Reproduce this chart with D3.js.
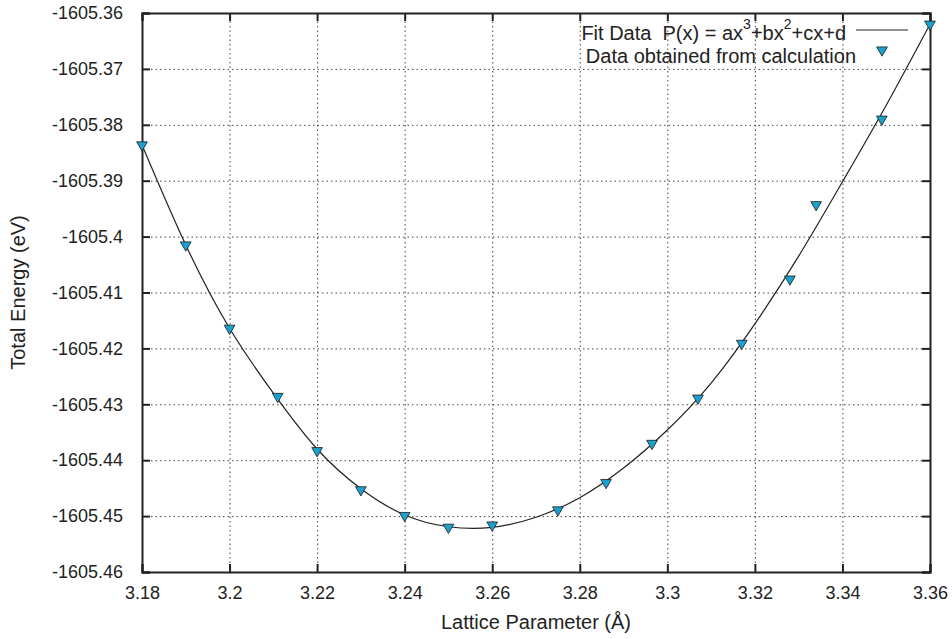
<!DOCTYPE html>
<html>
<head>
<meta charset="utf-8">
<script src="https://cdn.jsdelivr.net/npm/d3@7"></script>
<style>
  body { margin: 0; background: #fff; }
  text { font-family: "Liberation Sans", Arial, sans-serif; fill: #222; }
</style>
</head>
<body>
<div id="chart"></div>
<script>
// Data
const calcX = [3.18, 3.19, 3.20, 3.211, 3.22, 3.23, 3.24, 3.25, 3.26, 3.275, 3.286, 3.2965, 3.307, 3.317, 3.328, 3.334, 3.349, 3.36];
const calcE = [-1605.3836, -1605.4015, -1605.4164, -1605.4286, -1605.4383, -1605.4453, -1605.4499, -1605.4520, -1605.4516,
               -1605.4489, -1605.4440, -1605.4370, -1605.4289, -1605.4191, -1605.4076, -1605.3943, -1605.3790, -1605.3620];

// fitted cubic, sampled from the drawn curve
const fitX = [3.18, 3.19, 3.20, 3.21, 3.22, 3.23, 3.24, 3.25, 3.26, 3.27, 3.28, 3.29, 3.30, 3.31, 3.32, 3.33, 3.34, 3.35, 3.36];
const fitE = [-1605.3836, -1605.4015, -1605.4164, -1605.4280, -1605.4380, -1605.4451, -1605.4498, -1605.4519, -1605.4520, -1605.4502,
              -1605.4467, -1605.4414, -1605.4346, -1605.4262, -1605.4156, -1605.4035, -1605.3902, -1605.3765, -1605.3620];

const xTicks = [3.18, 3.20, 3.22, 3.24, 3.26, 3.28, 3.30, 3.32, 3.34, 3.36];
const xTickLabels = ["3.18", "3.2", "3.22", "3.24", "3.26", "3.28", "3.3", "3.32", "3.34", "3.36"];
const yTicks = [-1605.36, -1605.37, -1605.38, -1605.39, -1605.40, -1605.41, -1605.42, -1605.43, -1605.44, -1605.45, -1605.46];
const yTickLabels = ["-1605.36", "-1605.37", "-1605.38", "-1605.39", "-1605.4", "-1605.41", "-1605.42", "-1605.43", "-1605.44", "-1605.45", "-1605.46"];

const width = 952, height = 639;
const margin = {top: 13, right: 22, bottom: 67, left: 142};
const w = width - margin.left - margin.right;
const h = height - margin.top - margin.bottom;

const svg = d3.select("#chart").append("svg")
    .attr("width", width)
    .attr("height", height);

const g = svg.append("g")
    .attr("transform", `translate(${margin.left},${margin.top})`);

const x = d3.scaleLinear().domain([3.18, 3.36]).range([0, w]);
const y = d3.scaleLinear().domain([-1605.46, -1605.36]).range([h, 0]);

// dotted grid
g.append("g")
    .attr("class", "grid")
    .attr("transform", `translate(0,${h})`)
    .call(d3.axisBottom(x).tickValues(xTicks).tickSize(-h).tickFormat(""));
g.append("g")
    .attr("class", "grid")
    .call(d3.axisLeft(y).tickValues(yTicks).tickSize(-w).tickFormat(""));
g.selectAll(".grid .domain").remove();
g.selectAll(".grid line")
    .attr("stroke", "#444")
    .attr("stroke-width", 1)
    .attr("stroke-dasharray", "1.5,3");

// axes with inward ticks on all four sides
const axBottom = g.append("g")
    .attr("transform", `translate(0,${h})`)
    .call(d3.axisBottom(x).tickValues(xTicks).tickSize(-8).tickPadding(14)
        .tickFormat((d, i) => xTickLabels[i]));
const axLeft = g.append("g")
    .call(d3.axisLeft(y).tickValues(yTicks).tickSize(-8).tickPadding(19)
        .tickFormat((d, i) => yTickLabels[i]));
const axTop = g.append("g")
    .call(d3.axisTop(x).tickValues(xTicks).tickSize(-8).tickFormat(""));
const axRight = g.append("g")
    .attr("transform", `translate(${w},0)`)
    .call(d3.axisRight(y).tickValues(yTicks).tickSize(-8).tickFormat(""));

[axBottom, axLeft, axTop, axRight].forEach(a => {
    a.select(".domain").attr("stroke", "#222").attr("stroke-width", 2);
    a.selectAll(".tick line").attr("stroke", "#222").attr("stroke-width", 2);
    a.selectAll("text").attr("font-size", "18px").attr("fill", "#222")
        .attr("font-family", "'Liberation Sans', Arial, sans-serif");
});

// fit curve
const line = d3.line()
    .x((d, i) => x(fitX[i]))
    .y(d => y(d))
    .curve(d3.curveNatural);

g.append("path")
    .datum(fitE)
    .attr("fill", "none")
    .attr("stroke", "#222")
    .attr("stroke-width", 1.2)
    .attr("d", line);

// calculated points (down triangles)
const tri = d3.symbol().type(d3.symbolTriangle).size(50);
g.selectAll(".pt")
    .data(calcE)
    .enter()
    .append("path")
    .attr("class", "pt")
    .attr("d", tri)
    .attr("transform", (d, i) => `translate(${x(calcX[i])},${y(d)}) rotate(180)`)
    .attr("fill", "#1ba1d0")
    .attr("stroke", "#1a1a1a")
    .attr("stroke-width", 0.8);

// legend
const leg = svg.append("g");
const t1 = leg.append("text")
    .attr("x", 846)
    .attr("y", 40)
    .attr("text-anchor", "end")
    .attr("font-size", "20px")
    .attr("xml:space", "preserve");
t1.append("tspan").text("Fit Data  P(x) = ax");
t1.append("tspan").attr("dy", -11).attr("font-size", "14px").text("3");
t1.append("tspan").attr("dy", 11).text("+bx");
t1.append("tspan").attr("dy", -11).attr("font-size", "14px").text("2");
t1.append("tspan").attr("dy", 11).text("+cx+d");

leg.append("line")
    .attr("x1", 856).attr("x2", 908)
    .attr("y1", 30).attr("y2", 30)
    .attr("stroke", "#222")
    .attr("stroke-width", 1.2);

leg.append("text")
    .attr("x", 856)
    .attr("y", 62.5)
    .attr("text-anchor", "end")
    .attr("font-size", "20px")
    .text("Data obtained from calculation");

leg.append("path")
    .attr("d", tri)
    .attr("transform", "translate(882,50) rotate(180)")
    .attr("fill", "#1ba1d0")
    .attr("stroke", "#1a1a1a")
    .attr("stroke-width", 0.8);

// axis titles
svg.append("text")
    .attr("x", margin.left + w / 2)
    .attr("y", 629)
    .attr("text-anchor", "middle")
    .attr("font-size", "20px")
    .text("Lattice Parameter (Å)");

svg.append("text")
    .attr("transform", `translate(25,${margin.top + h / 2}) rotate(-90)`)
    .attr("text-anchor", "middle")
    .attr("font-size", "20px")
    .text("Total Energy (eV)");
</script>
</body>
</html>
